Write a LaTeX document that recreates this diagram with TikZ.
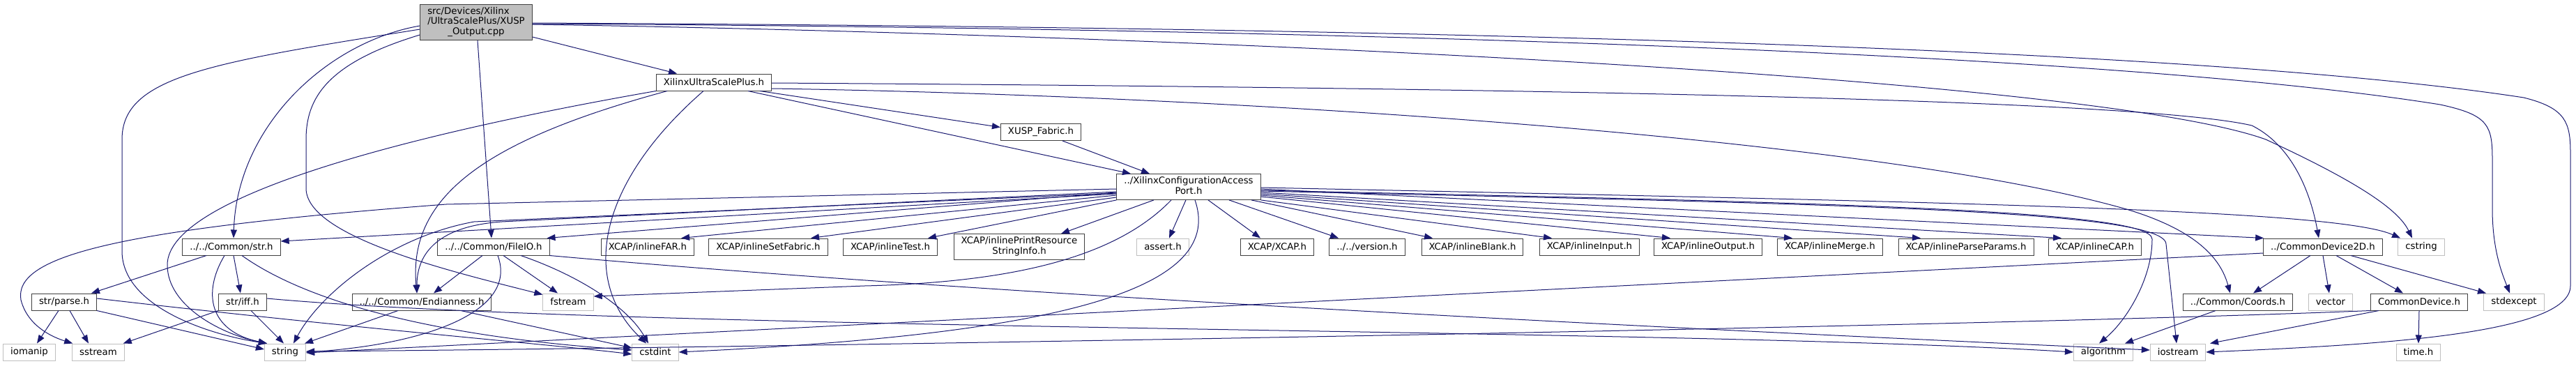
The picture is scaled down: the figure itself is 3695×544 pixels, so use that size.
\documentclass[tikz,border=0pt]{standalone}
\usepackage{fontspec}
\setmainfont{DejaVu Sans}
\usetikzlibrary{arrows.meta}
\definecolor{edgeblue}{HTML}{191970}
\definecolor{boxline}{HTML}{404040}
\definecolor{sysline}{HTML}{BFBFBF}
\definecolor{rootfill}{HTML}{BFBFBF}
\newcommand{\gfont}{\fontsize{13.3}{14.4}\selectfont}
\tikzset{
  hdr/.style={draw=boxline, fill=white, line width=1pt, font=\gfont,
    inner xsep=10.5pt, inner ysep=4pt, minimum height=24pt},
  sys/.style={hdr, draw=sysline},
  src/.style={hdr, fill=rootfill},
  inc/.style={draw=edgeblue, line width=1pt, -{Triangle[length=12pt,width=9pt]}}
}
\begin{document}
\begin{tikzpicture}[x=1pt,y=-1pt]
\useasboundingbox (0,0) rectangle (3695,544);
\fill[white] (0,0) rectangle (3695,544);

% top of the include tree
\node[src] (root) at (683,32) {\begin{tabular}{@{}l@{}}src/Devices/Xilinx\\/UltraScalePlus/XUSP\\\multicolumn{1}{@{}c@{}}{\_Output.cpp}\end{tabular}};
\node[hdr] (xus) at (1024,118) {XilinxUltraScalePlus.h};
\node[hdr] (fab) at (1493,189.5) {XUSP\_Fabric.h};
\node[hdr] (xcap) at (1705,268) {\begin{tabular}{@{}l@{}}../XilinxConfigurationAccess\\\multicolumn{1}{@{}c@{}}{Port.h}\end{tabular}};

% third row
\node[hdr] (str) at (332,354) {../../Common/str.h};
\node[hdr] (fio) at (708,354) {../../Common/FileIO.h};
\node[hdr] (far) at (929,354) {XCAP/inlineFAR.h};
\node[hdr] (setfab) at (1102,354) {XCAP/inlineSetFabric.h};
\node[hdr] (test) at (1277,354) {XCAP/inlineTest.h};
\node[hdr] (prs) at (1462,354) {\begin{tabular}{@{}l@{}}XCAP/inlinePrintResource\\\multicolumn{1}{@{}c@{}}{StringInfo.h}\end{tabular}};
\node[sys] (assert) at (1668,354) {assert.h};
\node[hdr] (xcaph) at (1832,354) {XCAP/XCAP.h};
\node[hdr] (ver) at (1961,354) {../../version.h};
\node[hdr] (blank) at (2112,354) {XCAP/inlineBlank.h};
\node[hdr] (input) at (2280,354) {XCAP/inlineInput.h};
\node[hdr] (output) at (2450,354) {XCAP/inlineOutput.h};
\node[hdr] (merge) at (2625,354) {XCAP/inlineMerge.h};
\node[hdr] (pparams) at (2820,354) {XCAP/inlineParseParams.h};
\node[hdr] (cap) at (3005,354) {XCAP/inlineCAP.h};
\node[hdr] (cd2d) at (3332,354) {../CommonDevice2D.h};
\node[sys] (cstring) at (3473,354) {cstring};

% fourth row
\node[hdr] (parse) at (92,433) {str/parse.h};
\node[hdr] (iff) at (348,433) {str/iff.h};
\node[hdr] (endian) at (605,433) {../../Common/Endianness.h};
\node[sys] (fstream) at (815,433) {fstream};
\node[hdr] (coords) at (3210,433) {../Common/Coords.h};
\node[sys] (vector) at (3343,433) {vector};
\node[hdr] (cdev) at (3470,433) {CommonDevice.h};
\node[sys] (stdexcept) at (3606,433) {stdexcept};

% system headers at the bottom
\node[sys] (iomanip) at (42,505) {iomanip};
\node[sys] (sstream) at (141,505) {sstream};
\node[sys] (string) at (409,505) {string};
\node[sys] (cstdint) at (940,505) {cstdint};
\node[sys] (algorithm) at (3017,505) {algorithm};
\node[sys] (iostream) at (3124,505) {iostream};
\node[sys] (timeh) at (3469,505) {time.h};

% includes of the source file
\draw[inc] ([yshift=-21pt]root.east) -- ([xshift=-53pt]xus.north);
\draw[inc] ([xshift=2pt]root.south) -- ([xshift=-3pt]fio.north);
\draw[inc] ([yshift=-5pt]root.west) .. controls (470,60) and (340,180) .. ([xshift=3pt]str.north);
\draw[inc] ([yshift=-10pt]root.west) .. controls (300,90) and (175,110) .. (175,200) -- (175,360) .. controls (175,440) and (300,480) .. ([xshift=4pt]string.north west);
\draw[inc] ([yshift=-18pt]root.west) .. controls (470,90) and (439,140) .. (439,200) -- (439,270) .. controls (439,340) and (650,390) .. ([yshift=-2pt]fstream.north west);
\draw[inc] ([yshift=-3pt]root.east) .. controls (1700,50) and (3000,110) .. (3250,200) .. controls (3380,260) and (3440,300) .. ([xshift=-13pt]cstring.north);
\draw[inc] ([yshift=-2pt]root.east) .. controls (1800,40) and (3000,70) .. (3500,150) .. controls (3570,165) and (3575,180) .. (3575,230) -- (3575,300) .. controls (3575,360) and (3590,395) .. ([xshift=-6pt]stdexcept.north);
\draw[inc] ([yshift=-1pt]root.east) .. controls (1800,38) and (3100,60) .. (3620,140) .. controls (3680,155) and (3687,175) .. (3687,220) -- (3687,410) .. controls (3687,480) and (3400,495) .. (iostream.east);

% XilinxUltraScalePlus.h
\draw[inc] ([xshift=66pt]xus.south) -- ([yshift=7pt]fab.west);
\draw[inc] ([xshift=49pt]xus.south) -- ([xshift=-83pt]xcap.north);
\draw[inc] ([yshift=-1pt]xus.east) .. controls (2500,128) and (3100,150) .. (3230,180) .. controls (3290,210) and (3315,280) .. ([xshift=-6pt]cd2d.north);
\draw[inc] ([yshift=-9pt]xus.east) .. controls (1800,138) and (2700,200) .. (3050,300) .. controls (3150,330) and (3185,370) .. ([xshift=-11pt]coords.north);
\draw[inc] ([xshift=-67pt]xus.south) .. controls (700,200) and (585,280) .. ([xshift=-7pt]endian.north);
\draw[inc] (xus.south west) .. controls (600,190) and (240,280) .. (240,380) .. controls (240,440) and (320,480) .. ([xshift=4pt]string.north west);
\draw[inc] ([xshift=-15pt]xus.south) .. controls (860,260) and (830,400) .. ([xshift=-13pt]cstdint.north);
\draw[inc] ([xshift=31pt]fab.south) -- ([xshift=-56pt]xcap.north);

% ../XilinxConfigurationAccessPort.h
\draw[inc] ([yshift=-10pt]xcap.west) -- ([yshift=8pt]str.east);
\draw[inc] ([yshift=-8pt]xcap.west) -- ([xshift=-4pt]fio.north east);
\draw[inc] ([yshift=-12pt]xcap.west) -- ([xshift=48pt]far.north);
\draw[inc] ([yshift=-15pt]xcap.west) -- ([xshift=61pt]setfab.north);
\draw[inc] (xcap.south west) -- ([xshift=54pt]test.north);
\draw[inc] ([xshift=-50pt]xcap.south) -- ([xshift=60pt]prs.north);
\draw[inc] ([xshift=-4pt]xcap.south) -- ([xshift=9pt]assert.north);
\draw[inc] ([xshift=28pt]xcap.south) -- ([xshift=-24pt]xcaph.north);
\draw[inc] ([xshift=58pt]xcap.south) -- ([xshift=-41pt]ver.north);
\draw[inc] ([xshift=90pt]xcap.south) -- ([xshift=-57pt]blank.north);
\draw[inc] (xcap.south east) -- ([xshift=-54pt]input.north);
\draw[inc] ([yshift=-14pt]xcap.east) -- ([xshift=-54pt]output.north);
\draw[inc] ([yshift=-12pt]xcap.east) -- ([xshift=-54pt]merge.north);
\draw[inc] ([yshift=-10pt]xcap.east) -- ([xshift=-65pt]pparams.north);
\draw[inc] ([yshift=-8pt]xcap.east) -- ([xshift=-48pt]cap.north);
\draw[inc] ([yshift=-3pt]xcap.east) -- ([xshift=1pt]cd2d.north west);
\draw[inc] ([yshift=-1pt]xcap.east) .. controls (2800,290) and (3350,300) .. ([xshift=-30pt]cstring.north);
\draw[inc] ([yshift=-5pt]xcap.east) .. controls (2600,290) and (3087,300) .. (3087,343) .. controls (3087,400) and (3050,460) .. ([xshift=-6pt]algorithm.north);
\draw[inc] ([yshift=-6pt]xcap.east) .. controls (2600,292) and (3105,300) .. (3107,350) -- ([xshift=-2pt]iostream.north);
\draw[inc] ([yshift=-7pt]xcap.west) -- (720,318) .. controls (620,325) and (598,370) .. ([xshift=-7pt]endian.north);
\draw[inc] ([yshift=-9pt]xcap.west) -- (680,318) .. controls (560,340) and (460,420) .. ([xshift=12pt]string.north);
\draw[inc] ([yshift=-3pt]xcap.west) -- (640,293) .. controls (150,330) and (20,370) .. (30,430) .. controls (40,470) and (80,485) .. ([xshift=1pt]sstream.north west);
\draw[inc] ([xshift=-25pt]xcap.south) .. controls (1600,370) and (1450,405) .. (1240,410) -- ([yshift=8pt]fstream.east);
\draw[inc] ([xshift=9pt]xcap.south) .. controls (1760,420) and (1500,480) .. (cstdint.east);

% ../../Common/FileIO.h
\draw[inc] ([xshift=-16pt]fio.south) -- ([xshift=17pt]endian.north);
\draw[inc] ([xshift=14pt]fio.south) -- ([xshift=-15pt]fstream.north);
\draw[inc] ([xshift=39pt]fio.south) .. controls (830,395) and (900,440) .. ([xshift=-10pt]cstdint.north);
\draw[inc] ([xshift=6pt]fio.south) .. controls (745,450) and (600,495) .. (string.east);
\draw[inc] (fio.south east) .. controls (1500,430) and (2600,480) .. ([yshift=3pt]iostream.west);

% ../../Common/str.h
\draw[inc] ([xshift=-36pt]str.south) -- ([xshift=39pt]parse.north);
\draw[inc] ([xshift=3pt]str.south) -- ([xshift=-3pt]iff.north);
\draw[inc] ([xshift=-10pt]str.south) .. controls (290,420) and (300,475) .. ([xshift=4pt]string.north west);
\draw[inc] ([xshift=15pt]str.south) .. controls (450,440) and (650,485) .. ([yshift=3pt]cstdint.west);
\draw[inc] ([xshift=-8pt]parse.south) -- ([xshift=11pt]iomanip.north);
\draw[inc] ([xshift=8pt]parse.south) -- ([xshift=-14pt]sstream.north);
\draw[inc] (parse.south east) -- ([yshift=4pt]string.west);
\draw[inc] ([yshift=5pt]parse.east) .. controls (500,470) and (800,495) .. ([yshift=-3pt]cstdint.west);
\draw[inc] (iff.south west) -- ([xshift=-2pt]sstream.north east);
\draw[inc] ([xshift=12pt]iff.south) -- ([xshift=-2pt]string.north);
\draw[inc] ([yshift=5pt]iff.east) .. controls (900,475) and (2400,470) .. (algorithm.west);
\draw[inc] ([xshift=-34pt]endian.south) -- ([xshift=-2pt]string.north east);
\draw[inc] ([xshift=56pt]endian.south) -- ([yshift=6pt]cstdint.west);

% ../CommonDevice2D.h and below
\draw[inc] ([xshift=-18pt]cd2d.south) -- ([xshift=22pt]coords.north);
\draw[inc] (cd2d.south) -- ([xshift=-2pt]vector.north);
\draw[inc] ([xshift=19pt]cd2d.south) -- ([xshift=-23pt]cdev.north);
\draw[inc] ([xshift=40pt]cd2d.south) -- ([xshift=-40pt]stdexcept.north);
\draw[inc] ([yshift=-9pt]cd2d.west) -- ([yshift=-1pt]string.east);
\draw[inc] ([xshift=-32pt]coords.south) -- ([xshift=31pt]algorithm.north);
\draw[inc] ([xshift=-58pt]cdev.south) -- ([xshift=46pt]iostream.north);
\draw[inc] (cdev.south) -- (timeh.north);
\draw[inc] (cdev.south west) .. controls (2800,470) and (1000,500) .. ([yshift=1pt]string.east);
\end{tikzpicture}
\end{document}
